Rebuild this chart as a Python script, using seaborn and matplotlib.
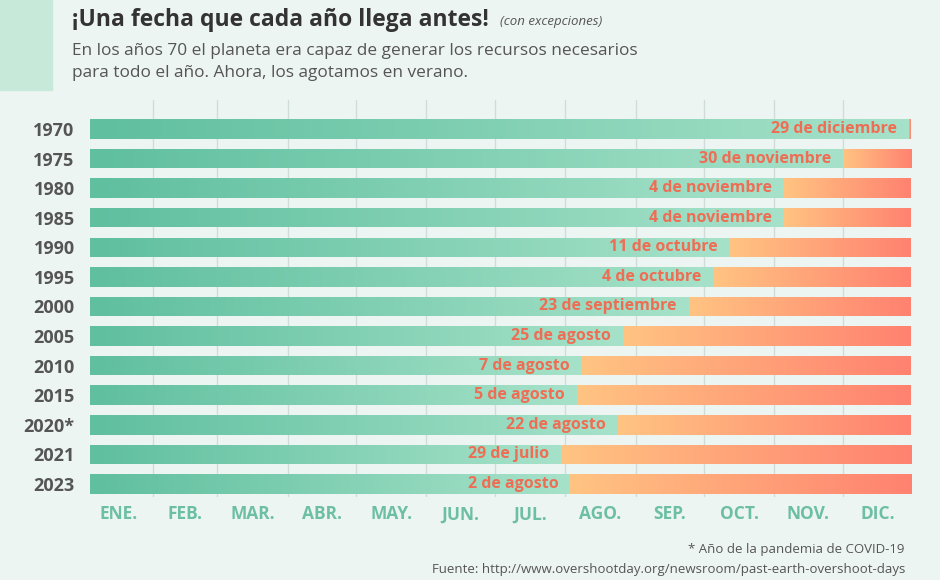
import numpy as np
import pandas as pd
import matplotlib.pyplot as plt
import matplotlib.patches as mpatches
from matplotlib.colors import LinearSegmentedColormap
import seaborn as sns

# Data
years = ["1970", "1975", "1980", "1985", "1990", "1995", "2000",
         "2005", "2010", "2015", "2020*", "2021", "2023"]
# day of the year of the overshoot day
overshoot_day = [363, 334, 308, 308, 284, 277, 266, 237, 219, 217, 235, 210, 214]
date_labels = ["29 de diciembre", "30 de noviembre", "4 de noviembre", "4 de noviembre",
               "11 de octubre", "4 de octubre", "23 de septiembre", "25 de agosto",
               "7 de agosto", "5 de agosto", "22 de agosto", "29 de julio", "2 de agosto"]
months = ["ENE.", "FEB.", "MAR.", "ABR.", "MAY.", "JUN.", "JUL.", "AGO.",
          "SEP.", "OCT.", "NOV.", "DIC."]
month_days = [31, 28, 31, 30, 31, 30, 31, 31, 30, 31, 30, 31]
year_length = 365

df = pd.DataFrame({"year": years, "day": overshoot_day, "full": year_length})

# Style
BG = "#edf5f3"
GREEN_CMAP = LinearSegmentedColormap.from_list("g", ["#5fbf9f", "#a6e2c9"])
ORANGE_CMAP = LinearSegmentedColormap.from_list("o", ["#ffc482", "#ff8270"])
LABEL_RED = "#ee6e55"
MONTH_GREEN = "#6cbfa3"
DARK = "#555555"

sns.set_theme(style="white")
plt.rcParams["font.family"] = ["Open Sans", "DejaVu Sans"]

fig = plt.figure(figsize=(9.4, 5.8), dpi=100, facecolor=BG)
ax = fig.add_axes([0.0883, 0.1431, 0.8830, 0.6845])
ax.set_facecolor(BG)

bar_height = 0.66
sns.barplot(data=df, y="year", x="full", orient="h", color="#ffb080",
            width=bar_height, ax=ax, zorder=2)
sns.barplot(data=df, y="year", x="day", orient="h", color="#7fcfb2",
            width=bar_height, ax=ax, zorder=3)

# small inset of the bars from the axis start
inset = 3
n = len(years)
patches = list(ax.patches)
grad = np.linspace(0, 1, 256).reshape(1, -1)
for i, p in enumerate(patches):
    p.set_x(inset)
    p.set_width(p.get_width() - inset - (1 if i < n else 0))
    p.set_edgecolor("none")
    cmap = ORANGE_CMAP if i < n else GREEN_CMAP
    x0 = p.get_x()
    x1 = x0 + p.get_width()
    y0 = p.get_y()
    y1 = y0 + p.get_height()
    if i < n:
        # orange part goes from overshoot day to end of year
        x0 = overshoot_day[i]
    im = ax.imshow(grad, cmap=cmap, extent=(x0, x1, y1, y0), aspect="auto",
                   zorder=4 if i >= n else 2.5, interpolation="bilinear")
    im.set_clip_path(p)

# date labels
for i, (d, lab) in enumerate(zip(overshoot_day, date_labels)):
    ax.text(d - 5, i, lab, ha="right", va="center", color=LABEL_RED,
            fontsize=11.5, fontweight="bold", zorder=6)

# month grid and labels
bounds = np.cumsum([0] + month_days)
mids = (bounds[:-1] + bounds[1:]) / 2
for b in bounds[1:-1]:
    ax.axvline(b, color="#cfdcda", lw=1, zorder=1)

ax.set_xlim(0, year_length)
ax.set_ylim(n - 0.56, -0.98)
ax.set_xticks(mids)
ax.set_xticklabels(months, color=MONTH_GREEN, fontsize=12.5, fontweight="bold")
ax.tick_params(axis="x", length=0, pad=6)
ax.set_yticks(range(n))
ax.set_yticklabels(years, color=DARK, fontsize=13, fontweight="bold")
ax.tick_params(axis="y", length=0, pad=6)
ax.set_xlabel("")
ax.set_ylabel("")
sns.despine(ax=ax, left=True, bottom=True)

# header
fig.patches.append(mpatches.Rectangle((0, 1 - 90 / 580), 52 / 940, 90 / 580,
                                      transform=fig.transFigure, color="#c6e9da", zorder=0))
fig.text(72 / 940, 1 - 20 / 580, "¡Una fecha que cada año llega antes!", fontsize=16.5,
         fontweight="bold", color="#333333", va="center", ha="left")
fig.text(500 / 940, 1 - 22 / 580, "(con excepciones)", fontsize=9.5, style="italic",
         color="#555555", va="center", ha="left")
fig.text(72 / 940, 1 - 51 / 580,
         "En los años 70 el planeta era capaz de generar los recursos necesarios",
         fontsize=12.4, color="#555555", va="center", ha="left")
fig.text(72 / 940, 1 - 73 / 580, "para todo el año. Ahora, los agotamos en verano.",
         fontsize=12.4, color="#555555", va="center", ha="left")

# footnotes
fig.text(905 / 940, 1 - 550 / 580, "* Año de la pandemia de COVID-19", fontsize=9.5,
         color="#555555", ha="right", va="center")
fig.text(905 / 940, 1 - 569 / 580,
         "Fuente: http://www.overshootday.org/newsroom/past-earth-overshoot-days",
         fontsize=9.5, color="#555555", ha="right", va="center")

fig.savefig("out.png", dpi=100, facecolor=BG)
